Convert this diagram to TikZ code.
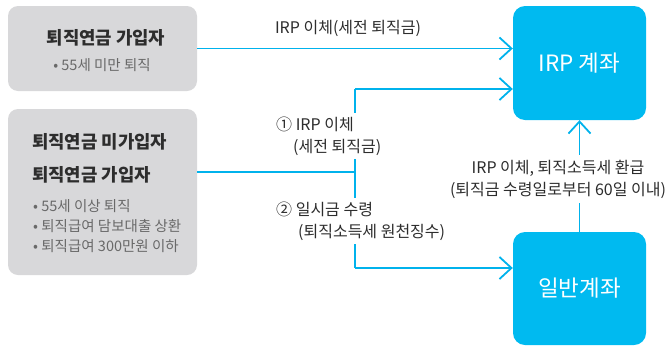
\documentclass[tikz,border=0pt]{standalone}
\usepackage{fontspec}
\setmainfont{Noto Sans CJK KR}
\usetikzlibrary{arrows.meta}
\definecolor{blu}{RGB}{0,178,236}
\definecolor{bfill}{RGB}{0,186,240}
\definecolor{gfill}{RGB}{216,216,218}
\definecolor{darktxt}{RGB}{45,45,45}
\definecolor{midtxt}{RGB}{105,105,105}
\begin{document}
\begin{tikzpicture}[x=1pt,y=-1pt,
  graybox/.style={fill=gfill,rounded corners=10pt,minimum width=189pt,inner sep=0pt},
  bluebox/.style={fill=bfill,rounded corners=12pt,minimum width=133pt,inner sep=0pt,text=white,font=\fontsize{22.5}{26}\selectfont},
  title/.style={anchor=west,inner sep=0pt,text=darktxt,font=\fontsize{17.8}{21}\selectfont\bfseries},
  bullet/.style={anchor=west,inner sep=0pt,text=midtxt,font=\fontsize{14.5}{17}\selectfont},
  lab/.style={text=darktxt,font=\fontsize{16}{22}\selectfont},
  conn/.style={draw=blu,line width=1.8pt},
  arr/.style={conn,-{Straight Barb[length=12pt,width=22pt]}}]
\useasboundingbox (0,0) rectangle (669,346);
% boxes
\node[graybox,minimum height=85pt] (g1) at (102.5,48.5) {};
\node[graybox,minimum height=166pt] (g2) at (102.5,192) {};
\node[bluebox,minimum height=114pt] (irp) at (579.5,63) {IRP 계좌};
\node[bluebox,minimum height=113pt] (gen) at (579.5,288.5) {일반계좌};
% box texts
\node[title,anchor=center] (t1) at (106,38) {퇴직연금 가입자};
\node[bullet,anchor=center] (b1) at (102,65) {• 55세 미만 퇴직};
\node[title] (t2) at (32,142) {퇴직연금 미가입자};
\node[title] (t3) at (32,175) {퇴직연금 가입자};
\node[bullet] (b2) at (33,206) {• 55세 이상 퇴직};
\node[bullet] (b3) at (33,226) {• 퇴직급여 담보대출 상환};
\node[bullet] (b4) at (33,246) {• 퇴직급여 300만원 이하};
% connectors
\coordinate (j) at (355,172);
\coordinate (jt) at (355,89);
\coordinate (jb) at (355,268);
\draw[arr] (g1.east) -- (g1.east -| irp.west);
\draw[conn] (g2.east |- j) -- (j);
\draw[conn] (jt) -- (jb);
\draw[arr] (jt) -- (jt -| irp.west);
\draw[arr] (jb) -- (jb -| gen.west);
\draw[arr] (gen.north) -- (irp.south);
% labels
\node[lab] (l0) at (348,28) {IRP 이체(세전 퇴직금)};
\node[lab,fill=white,anchor=west,align=left,inner sep=4pt] (l1) at (272,136) {① IRP 이체\\\hspace*{17pt}(세전 퇴직금)};
\node[lab,fill=white,anchor=west,align=left,inner sep=4pt] (l2) at (272,221) {② 일시금 수령\\\hspace*{22pt}(퇴직소득세 원천징수)};
\node[lab,fill=white,align=center,inner sep=5pt] (l3) at (558,179) {IRP 이체, 퇴직소득세 환급\\(퇴직금 수령일로부터 60일 이내)};
\end{tikzpicture}
\end{document}
